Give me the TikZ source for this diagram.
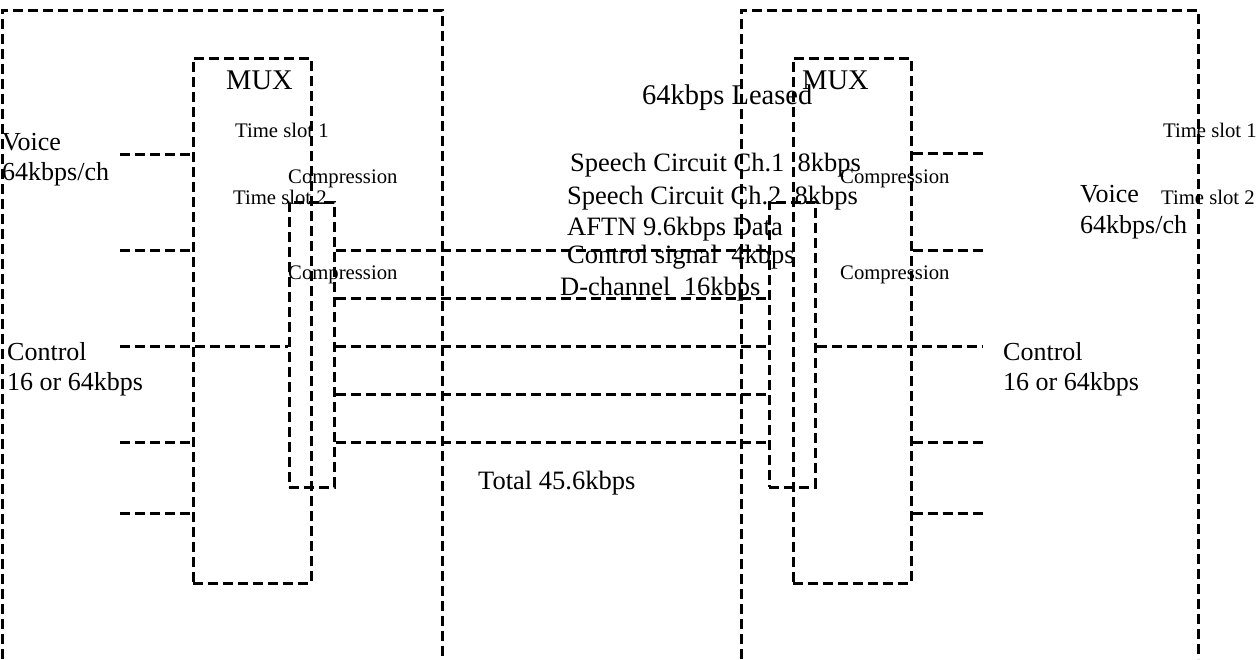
\documentclass[tikz,border=0pt]{standalone}
\usepackage{fontspec}
\setmainfont{Liberation Serif}
\begin{document}
\begin{tikzpicture}[x=1pt,y=-1pt,
  dline/.style={line width=3pt,dash pattern=on 10pt off 5pt},
  boxn/.style={draw,dline,rectangle,inner sep=0pt},
  big/.style={inner sep=0pt,anchor=base west,font=\fontsize{26}{30}\selectfont},
  mid/.style={inner sep=0pt,anchor=base west,font=\fontsize{26.5}{30}\selectfont},
  huge/.style={inner sep=0pt,anchor=base west,font=\fontsize{28.5}{32}\selectfont},
  small/.style={inner sep=0pt,anchor=base west,font=\fontsize{20.7}{24}\selectfont}]
\fill[white] (0,0) rectangle (1259,659);
\useasboundingbox (0,0) rectangle (1259,659);
% outer boxes (open at bottom)
\draw[dline] (2,659) -- (2,10) -- (442,10) -- (442,659);
\draw[dline] (741,659) -- (741,10) -- (1198,10) -- (1198,659);
% MUX boxes
\node[boxn,minimum width=118pt,minimum height=525pt] (muxL) at (252,320.5) {};
\node[boxn,minimum width=118pt,minimum height=525pt] (muxR) at (852,320.5) {};
% compression boxes
\node[boxn,minimum width=45pt,minimum height=285pt] (compL) at (311.5,344.5) {};
\node[boxn,minimum width=46pt,minimum height=285pt] (compR) at (792,344.5) {};
% left input lines
\coordinate (l1) at (120,154);
\coordinate (l2) at (120,250);
\coordinate (l3) at (120,346);
\coordinate (l4) at (120,442);
\coordinate (l5) at (120,513);
\draw[dline] (l1) -- (l1 -| muxL.west);
\draw[dline] (l2) -- (l2 -| muxL.west);
\draw[dline] (l3) -- (l3 -| compL.west);
\draw[dline] (l4) -- (l4 -| muxL.west);
\draw[dline] (l5) -- (l5 -| muxL.west);
% right output lines
\coordinate (r1) at (983,153);
\coordinate (r2) at (983,250);
\coordinate (r3) at (983,346);
\coordinate (r4) at (983,442);
\coordinate (r5) at (983,513);
\draw[dline] (r1 -| muxR.east) -- (r1);
\draw[dline] (r2 -| muxR.east) -- (r2);
\draw[dline] (r3 -| compR.east) -- (r3);
\draw[dline] (r4 -| muxR.east) -- (r4);
\draw[dline] (r5 -| muxR.east) -- (r5);
% leased line channels
\foreach \yy in {250,298,346,394,442}
  \draw[dline] (compL.east |- 0,\yy) -- (compR.west |- 0,\yy);
% texts
\node[huge] (muxLt) at (226,89.5) {MUX};
\node[huge] (muxRt) at (802,89.5) {MUX};
\node[huge] (leased) at (642,104) {64kbps Leased};
\node[small] (ts1L) at (235,137.5) {Time slot 1};
\node[small] (ts2L) at (233,204) {Time slot 2};
\node[small] (cp1L) at (288,183) {Compression};
\node[small] (cp2L) at (288,279) {Compression};
\node[small] (cp1R) at (840,183) {Compression};
\node[small] (cp2R) at (840,279) {Compression};
\node[small] (ts1R) at (1163,137.5) {Time slot 1};
\node[small] (ts2R) at (1161,204) {Time slot 2};
\node[big] (voiceL) at (2,150) {Voice};
\node[big] (rateL) at (2,180) {64kbps/ch};
\node[big] (ctrlL) at (7,360) {Control};
\node[big] (crateL) at (7,390.5) {16 or 64kbps};
\node[big] (voiceR) at (1080,202.5) {Voice};
\node[big] (rateR) at (1080,233) {64kbps/ch};
\node[big] (ctrlR) at (1003,360) {Control};
\node[big] (crateR) at (1003,390.5) {16 or 64kbps};
\node[mid] (sp1) at (570,171.5) {Speech Circuit Ch.1\ \ 8kbps};
\node[mid] (sp2) at (567,204) {Speech Circuit Ch.2\ \ 8kbps};
\node[mid] (aftn) at (567,235) {AFTN 9.6kbps Data};
\node[mid] (csig) at (567,263.5) {Control signal\ \ 4kbps};
\node[mid] (dch) at (560,295) {D-channel\ \ 16kbps};
\node[mid] (total) at (478,489) {Total 45.6kbps};
\end{tikzpicture}
\end{document}
